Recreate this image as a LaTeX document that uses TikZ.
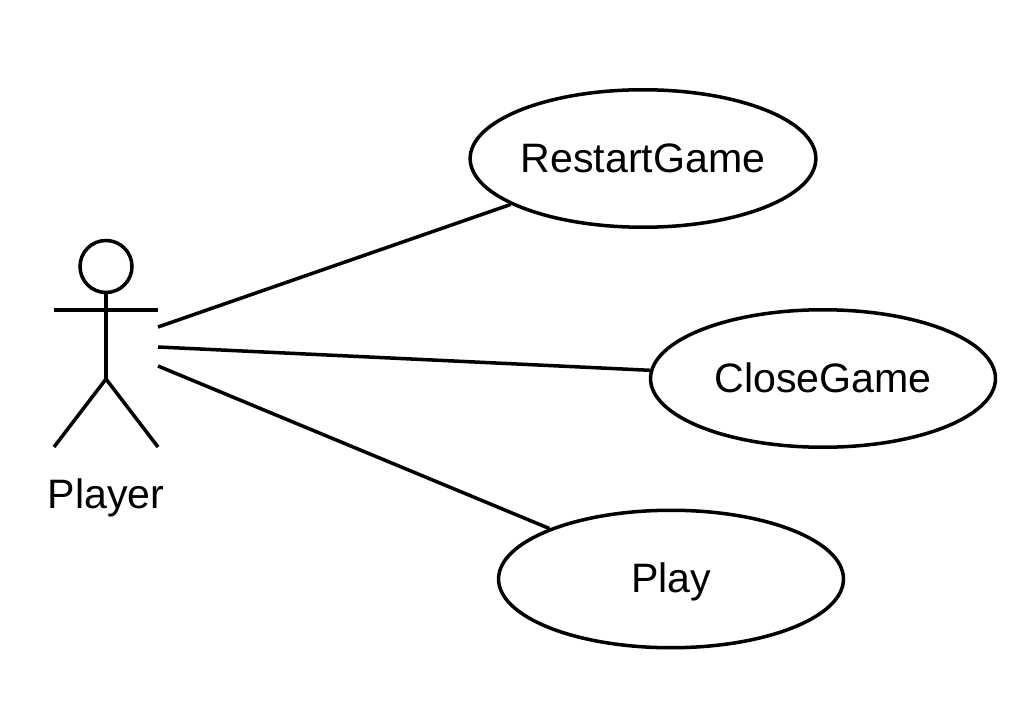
\documentclass[tikz,border=0pt]{standalone}
\usepackage{fontspec}
\setmainfont{Liberation Sans}
\usepackage{tikz}
\usetikzlibrary{positioning,%
  shapes.geometric%
}

\tikzset{
  usecase/.style={draw, ellipse, line width=2pt, inner sep=0pt, minimum width=6.9cm, minimum height=2.75cm, text height=.68cm, text depth=.13cm, font=\fontsize{23.4}{28}\selectfont},
  stick/.style={line width=2pt},
  label text/.style={font=\fontsize{23.4}{28}\selectfont, inner sep=0pt}
}

\begin{document}
\begin{tikzpicture}[x=.02cm, y=-.02cm]
            \useasboundingbox (0,0) rectangle (1030,705);

            \node [usecase] (restart) at (643,158.5) {RestartGame};
            \node [usecase] (close) at (823,378.5) {CloseGame};
            \node [usecase] (play) at (671,579) {Play};

            % the player
            \node [draw, circle, stick, inner sep=0pt, minimum size=1.04cm] (head) at (106,266.5) {};
            \coordinate (hip) at (106,379);
            \coordinate (armL) at (54,310);
            \coordinate (armR) at (158,310);
            \coordinate (footL) at (54,447);
            \coordinate (footR) at (158,447);
            \draw [stick] (head) -- (hip);
            \draw [stick] (armL) -- (armR);
            \draw [stick] (footL) -- (hip) -- (footR);
            \node [label text, anchor=base] (player) at (106,508) {Player};

            \coordinate (out1) at (158,327);
            \coordinate (out2) at (158,347);
            \coordinate (out3) at (158,366);
            \draw [stick] (out1) -- (restart);
            \draw [stick] (out2) -- (close);
            \draw [stick] (out3) -- (play);
        \end{tikzpicture}
\end{document}
